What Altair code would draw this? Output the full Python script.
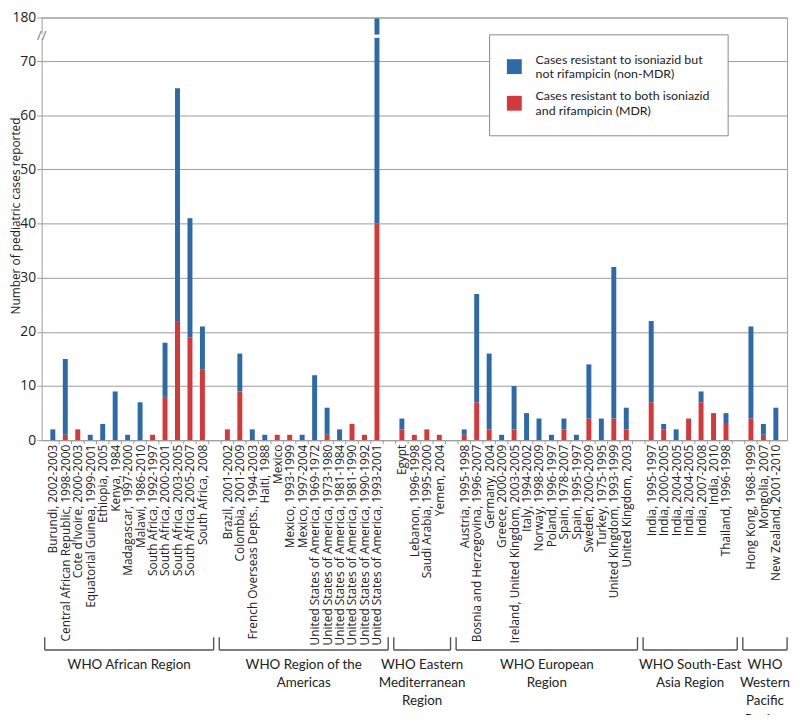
import json
import altair as alt
import pandas as pd

# ---------------- data ----------------
region_titles = [
    "WHO African Region",
    "WHO Region of the\nAmericas",
    "WHO Eastern\nMediterranean\nRegion",
    "WHO European\nRegion",
    "WHO South-East\nAsia Region",
    "WHO\nWestern\nPacific\nRegion",
]

african_names = ["Burundi, 2002-2003", "Central African Republic, 1998-2000", "Cote d'Ivoire, 2000-2003",
                 "Equatorial Guinea, 1999-2001", "Ethiopia, 2005", "Kenya, 1984", "Madagascar, 1997-2000",
                 "Malawi, 1986-2010", "South Africa, 1992-1997", "South Africa, 2000-2001",
                 "South Africa, 2003-2005", "South Africa, 2005-2007", "South Africa, 2008"]
african_non = [2, 14, 0, 1, 3, 9, 1, 7, 0, 10, 43, 22, 8]
african_mdr = [0, 1, 2, 0, 0, 0, 0, 0, 1, 8, 22, 19, 13]

americas_names = ["Brazil, 2001-2002", "Colombia, 2001-2009", "French Overseas Depts., 1994-2003",
                  "Haiti, 1988", "Mexico", "Mexico, 1993-1999", "Mexico, 1997-2004",
                  "United States of America, 1969-1972", "United States of America, 1973-1980",
                  "United States of America, 1981-1984", "United States of America, 1981-1990",
                  "United States of America, 1990-1992", "United States of America, 1993-2001"]
americas_non = [0, 7, 2, 1, 0, 0, 1, 12, 5, 2, 0, 0, 135]
americas_mdr = [2, 9, 0, 0, 1, 1, 0, 0, 1, 0, 3, 1, 40]

emed_names = ["Egypt", "Lebanon, 1996-1998", "Saudi Arabia, 1995-2000", "Yemen, 2004"]
emed_non = [2, 0, 0, 0]
emed_mdr = [2, 1, 2, 1]

europe_names = ["Austria, 1995-1998", "Bosnia and Herzegovina, 1996-2007", "Germany, 2004",
                "Greece, 2000-2009", "Ireland, United Kingdom, 2003-2005", "Italy, 1994-2002",
                "Norway, 1998-2009", "Poland, 1996-1997", "Spain, 1978-2007", "Spain, 1995-1997",
                "Sweden, 2000-2009", "Turkey, 1975-1995", "United Kingdom, 1993-1999", "United Kingdom, 2003"]
europe_non = [1, 20, 14, 1, 8, 5, 4, 1, 2, 1, 10, 4, 28, 4]
europe_mdr = [1, 7, 2, 0, 2, 0, 0, 0, 2, 0, 4, 0, 4, 2]

sea_names = ["India, 1995-1997", "India, 2000-2005", "India, 2004-2005", "India, 2004-2005",
             "India, 2007-2008", "India, 2010", "Thailand, 1996-1998"]
sea_non = [15, 1, 2, 0, 2, 0, 2]
sea_mdr = [7, 2, 0, 4, 7, 5, 3]

wp_names = ["Hong Kong, 1968-1999", "Mongolia, 2007", "New Zealand, 2001-2010"]
wp_non = [17, 2, 6]
wp_mdr = [4, 1, 0]

y_ticks = [0, 10, 20, 30, 40, 50, 60, 70]
top_label_value = 180

groups = [
    (african_names, african_non, african_mdr),
    (americas_names, americas_non, americas_mdr),
    (emed_names, emed_non, emed_mdr),
    (europe_names, europe_non, europe_mdr),
    (sea_names, sea_non, sea_mdr),
    (wp_names, wp_non, wp_mdr),
]

# ---------------- layout constants ----------------
W, H = 753, 427
BREAK = 74.6      # where the axis is broken
DTOP = 78.05      # display value of the top of the plot (labelled 180)
BLUE = "#2f6aa8"
RED = "#d3393b"
GRID = "#9c9c9c"

rows, labels_by_slot, spans, breaks = [], [], [], []
slot = 0
for gi, (names, non, mdr) in enumerate(groups):
    if gi > 0:
        labels_by_slot.append("")
        slot += 1
    start = slot
    for n, a, m in zip(names, non, mdr):
        c = slot + 0.5
        if m > 0:
            rows.append(dict(slot=c, kind="MDR", lo=0, hi=m))
        if a > 0:
            rows.append(dict(slot=c, kind="non-MDR", lo=m, hi=m + a))
        if m + a > BREAK:
            breaks.append(dict(slot=c))
        labels_by_slot.append(n)
        slot += 1
    s, e = start - 0.15, slot + 0.4
    spans.append(dict(region=region_titles[gi], start=s, end=e, mid=(s + e) / 2))
NSLOT = slot

bars_df = pd.DataFrame(rows)
spans_df = pd.DataFrame(spans)
bounds_df = pd.DataFrame({"b": list(range(1, NSLOT))})
breaks_df = pd.DataFrame(breaks)
one_df = pd.DataFrame({"a": [0]})

label_values = [i + 0.5 for i, n in enumerate(labels_by_slot) if n]
label_expr = json.dumps(labels_by_slot) + "[floor(datum.value)]"

xscale = alt.Scale(domain=[0, NSLOT], nice=False, zero=False)
yscale = alt.Scale(domain=[0, DTOP], nice=False, zero=True)
xaxis = alt.Axis(values=label_values, labelExpr=label_expr, labelAngle=-90,
                 labelFont="Open Sans", labelFontSize=12, labelColor="#222",
                 labelPadding=4, labelOverlap=False, labelFlush=False, labelBound=False,
                 labelLimit=400, ticks=False, domain=False, grid=False, title=None)

brk = f"(v > {BREAK} ? {BREAK} + (v - {BREAK}) * ({DTOP} - {BREAK}) / ({top_label_value} - {BREAK}) : v)"

bars = alt.Chart(bars_df).transform_calculate(
    y0=brk.replace("v", "datum.lo"),
    y1=brk.replace("v", "datum.hi"),
).mark_bar(size=5).encode(
    x=alt.X("slot:Q", scale=xscale, axis=xaxis),
    y=alt.Y("y1:Q", scale=yscale,
            axis=alt.Axis(values=y_ticks + [DTOP],
                          labelExpr=f"datum.value > {BREAK} ? '{top_label_value}' : datum.label",
                          labelFont="Open Sans", labelFontSize=14, labelColor="#222",
                          labelPadding=1, ticks=True, tickSize=5, tickColor=GRID, tickWidth=1,
                          domain=False, grid=True, gridColor=GRID, gridWidth=1,
                          title="Number of pediatric cases reported", titleFont="Open Sans",
                          titleFontSize=12, titleFontWeight="normal", titleColor="#222",
                          titleAngle=-90, titleX=-22, titleY=200, titleBaseline="alphabetic",
                          titleAlign="center")),
    y2="y0:Q",
    color=alt.Color("kind:N",
                    scale=alt.Scale(domain=["non-MDR", "MDR"], range=[BLUE, RED]),
                    legend=alt.Legend(
                        orient="none", legendX=452, legendY=17, title=None,
                        fillColor="white", strokeColor="#8a8a8a", padding=18,
                        symbolType="M-1,-0.05H1V1.95H-1Z", symbolSize=225, symbolStrokeWidth=0,
                        labelFont="Lato", labelFontSize=12.5, labelColor="#222",
                        labelOffset=14, rowPadding=8, labelLimit=400,
                        labelExpr="datum.label == 'non-MDR' ? ['Cases resistant to isoniazid but', 'not rifampicin (non-MDR)'] : ['Cases resistant to both isoniazid', 'and rifampicin (MDR)']",
                    )),
)

ticks = alt.Chart(bounds_df).mark_rule(color=GRID, strokeWidth=1).encode(
    x=alt.X("b:Q", scale=xscale, axis=xaxis), y=alt.value(H), y2=alt.value(H + 4)
)

bar_break = alt.Chart(breaks_df).mark_bar(size=9, color="white").encode(
    x=alt.X("slot:Q", scale=xscale, axis=xaxis),
    y=alt.datum(BREAK - 0.3), y2=alt.datum(BREAK + 0.3)
)

axis_gap = alt.Chart(one_df).mark_rect(color="white").encode(
    x=alt.value(-4), x2=alt.value(4), y=alt.datum(BREAK - 0.4), y2=alt.datum(BREAK + 0.4)
)
axis_slash = alt.Chart(one_df).mark_text(text="//", fontSize=13, color="#777", font="Open Sans").encode(
    x=alt.value(0), y=alt.datum(BREAK)
)

bracket_h = alt.Chart(spans_df).mark_rule(color="#555", strokeWidth=1.4).encode(
    x=alt.X("start:Q", scale=xscale, axis=xaxis), x2="end:Q", y=alt.value(639)
)
bracket_l = alt.Chart(spans_df).mark_rule(color="#555", strokeWidth=1.4).encode(
    x=alt.X("start:Q", scale=xscale, axis=xaxis), y=alt.value(626), y2=alt.value(639)
)
bracket_r = alt.Chart(spans_df).mark_rule(color="#555", strokeWidth=1.4).encode(
    x=alt.X("end:Q", scale=xscale, axis=xaxis), y=alt.value(626), y2=alt.value(639)
)
region_text = alt.Chart(spans_df).mark_text(
    font="Lato", fontSize=13.5, color="#222", lineBreak="\n", baseline="top",
    align="center", lineHeight=18.5
).encode(
    x=alt.X("mid:Q", scale=xscale, axis=xaxis), y=alt.value(647), text="region:N"
)

chart = alt.layer(
    bars, bar_break, ticks, axis_gap, axis_slash, bracket_h, bracket_l, bracket_r, region_text
).properties(
    width=W, height=H,
    autosize=alt.AutoSizeParams(type="none"),
    padding={"left": 34, "top": 6, "right": 5, "bottom": 274},
).configure_view(stroke=GRID, strokeWidth=1)

chart.save("out.html", embed_options={"renderer": "svg", "actions": False})
